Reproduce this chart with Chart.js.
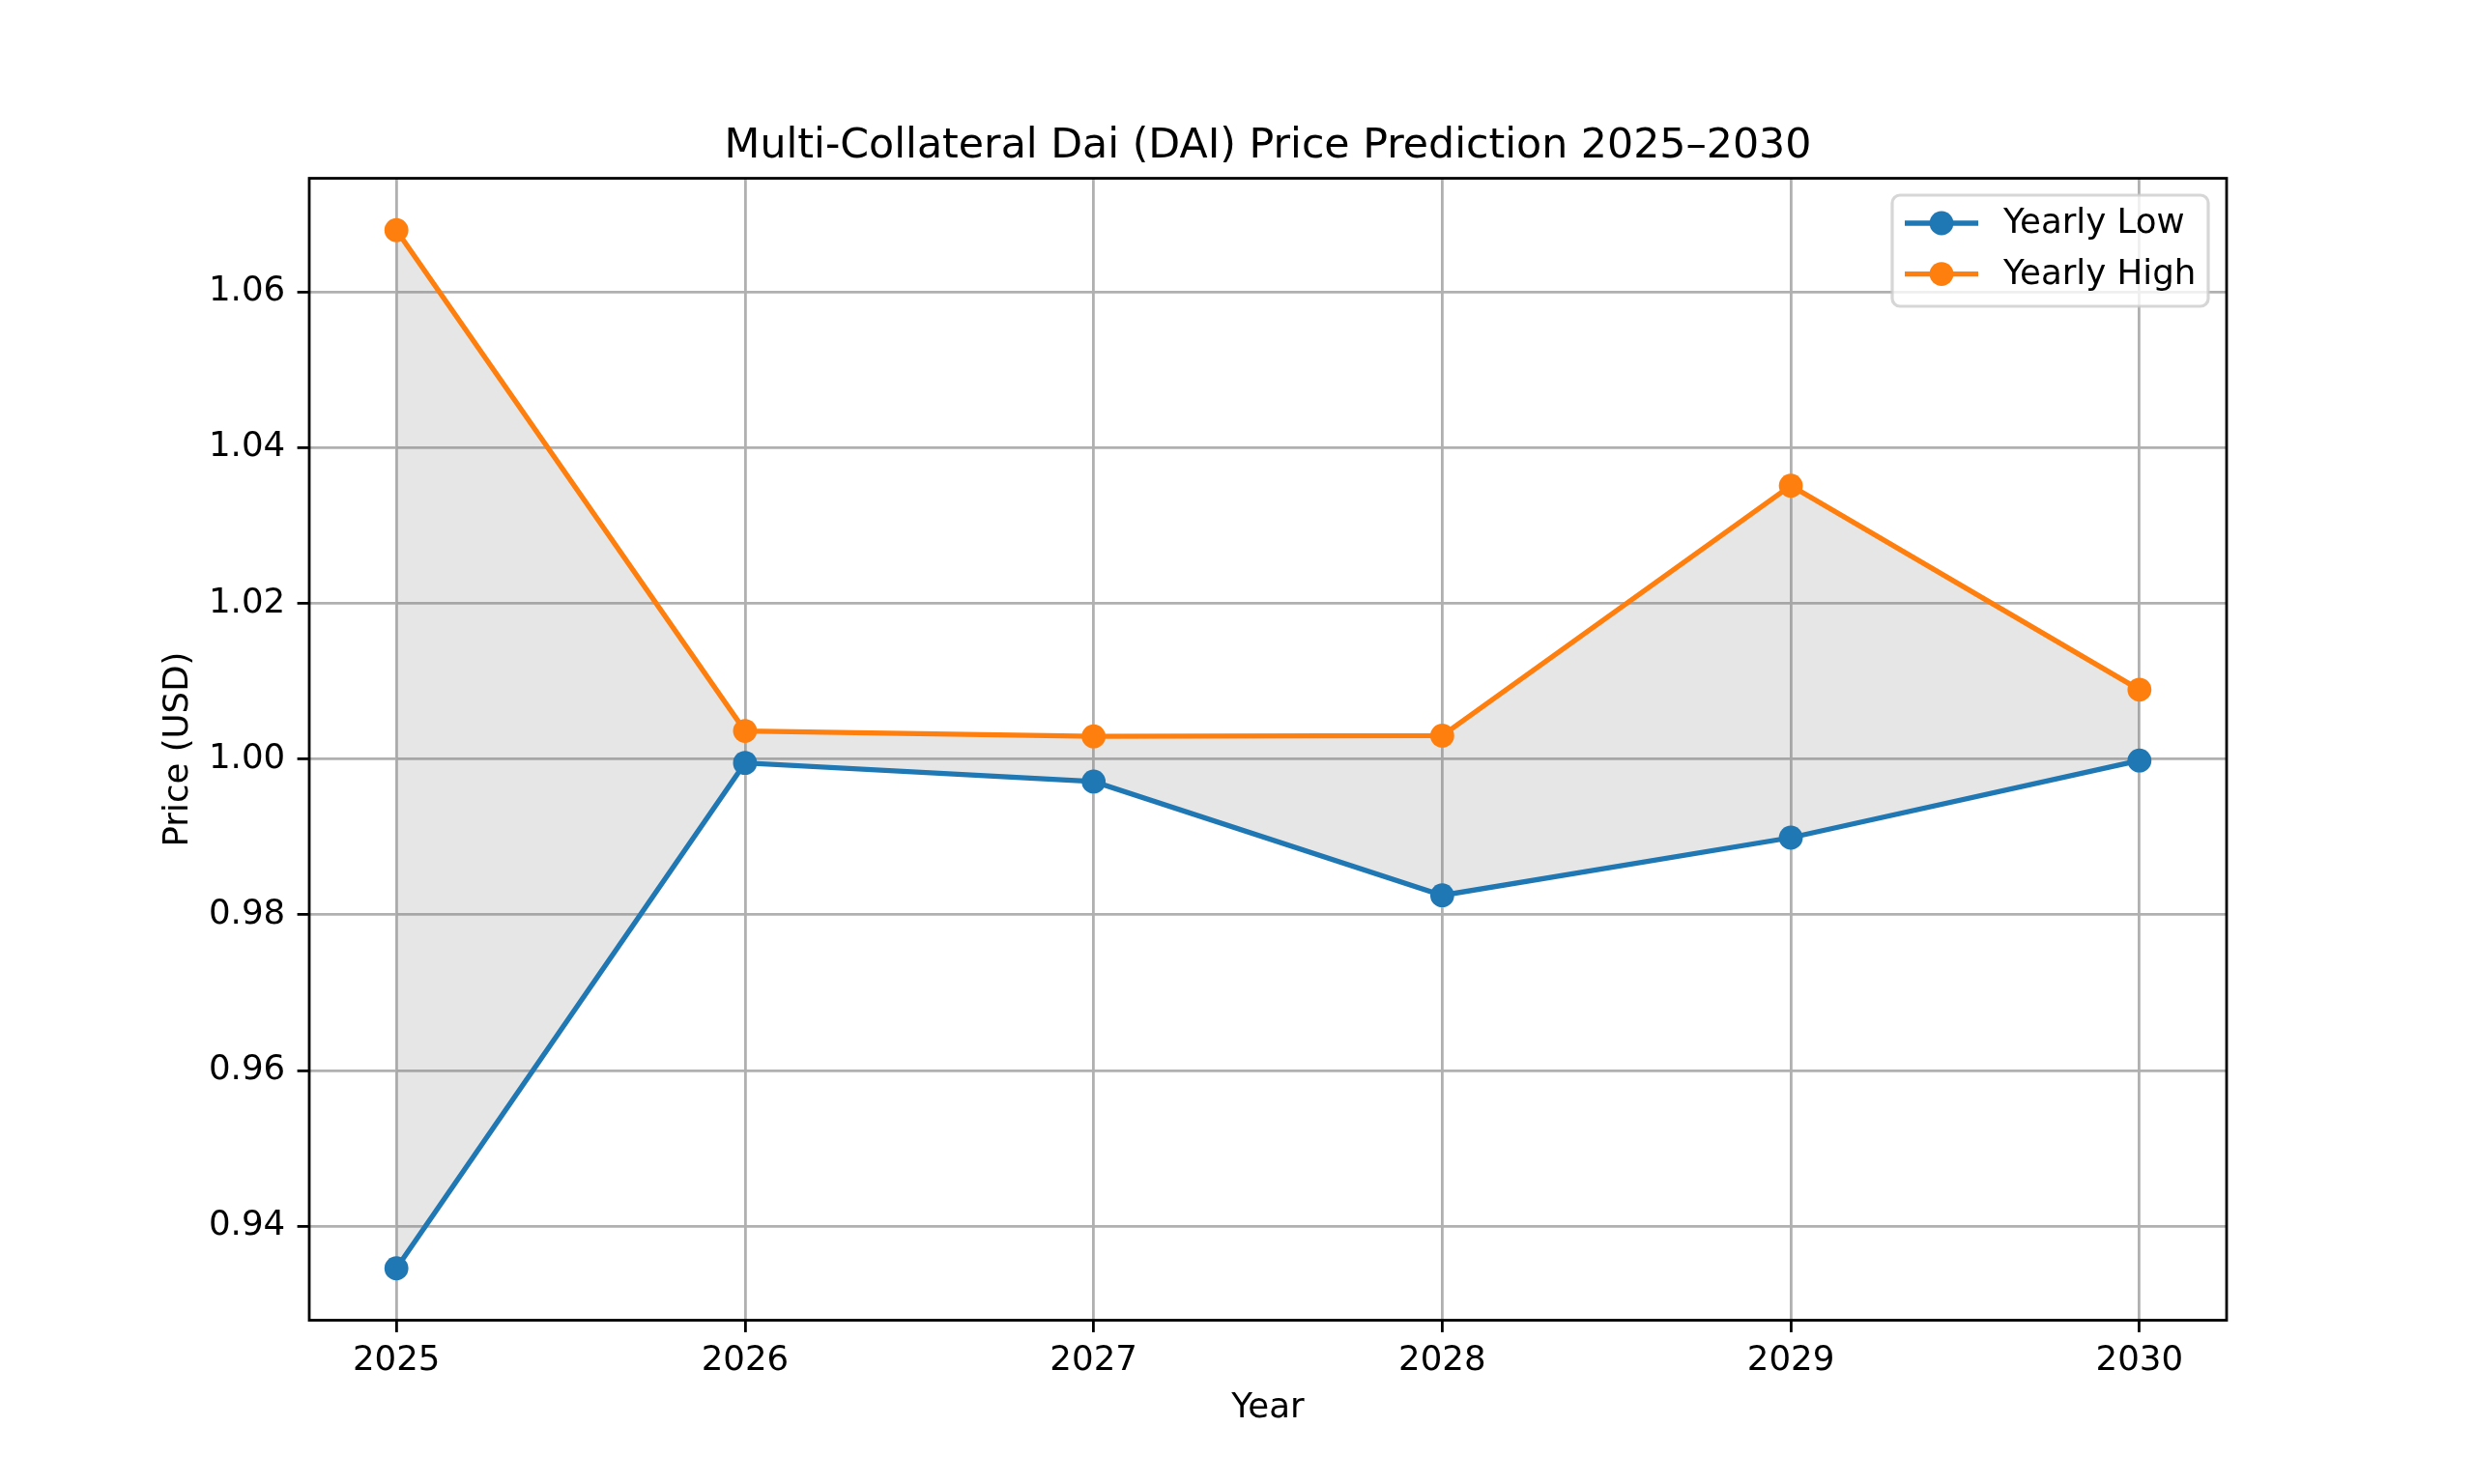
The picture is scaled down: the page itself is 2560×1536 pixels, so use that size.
<!DOCTYPE html>
<html>
<head>
<meta charset="utf-8">
<script src="https://cdn.jsdelivr.net/npm/chart.js@4.4.1/dist/chart.umd.min.js"></script>
<style>
  html, body { margin: 0; padding: 0; background: #fff; }
  #wrap { width: 2560px; height: 1536px; }
</style>
</head>
<body>
<div id="wrap"><canvas id="chart" width="2560" height="1536"></canvas></div>
<script>
const years = [2025, 2026, 2027, 2028, 2029, 2030];
const yearlyLow = [0.9346, 0.9995, 0.9971, 0.9825, 0.9899, 0.9998];
const yearlyHigh = [1.0679, 1.0036, 1.0029, 1.0030, 1.0351, 1.0089];
const yTicks = [0.94, 0.96, 0.98, 1.00, 1.02, 1.04, 1.06];

const BLUE = '#1f77b4';
const ORANGE = '#ff7f0e';
const FONT = "'DejaVu Sans', sans-serif";

// matplotlib-like 5% margins around the data
const allVals = yearlyLow.concat(yearlyHigh);
const yLo = Math.min(...allVals), yHi = Math.max(...allVals);
const yPad = (yHi - yLo) * 0.05;
const xPad = (years[years.length - 1] - years[0]) * 0.05;

const toPoints = vals => vals.map((v, i) => ({ x: years[i], y: v }));

// spines on all four sides
const framePlugin = {
  id: 'frame',
  afterDatasetsDraw(chart) {
    const { ctx, chartArea: a } = chart;
    ctx.save();
    ctx.strokeStyle = '#000';
    ctx.lineWidth = 2.8;
    ctx.strokeRect(a.left, a.top, a.right - a.left, a.bottom - a.top);
    ctx.restore();
  }
};

// legend box in the upper right of the plot, like matplotlib
const legendPlugin = {
  id: 'boxLegend',
  afterDraw(chart) {
    const { ctx } = chart;
    const x = 1958, y = 202, w = 327, h = 115;
    ctx.save();
    ctx.beginPath();
    ctx.roundRect(x, y, w, h, 8);
    ctx.fillStyle = 'rgba(255,255,255,0.8)';
    ctx.fill();
    ctx.lineWidth = 3.2;
    ctx.strokeStyle = 'rgba(204,204,204,0.8)';
    ctx.stroke();

    ctx.font = '35.6px ' + FONT;
    ctx.textBaseline = 'middle';
    ctx.textAlign = 'left';
    chart.data.datasets.forEach((ds, i) => {
      const cy = 231 + i * 52.6;
      ctx.strokeStyle = ds.borderColor;
      ctx.lineWidth = 5.3;
      ctx.beginPath();
      ctx.moveTo(1971, cy);
      ctx.lineTo(2047, cy);
      ctx.stroke();
      ctx.fillStyle = ds.borderColor;
      ctx.beginPath();
      ctx.arc(2009, cy, 12.4, 0, Math.PI * 2);
      ctx.fill();
      ctx.fillStyle = '#000';
      ctx.fillText(ds.label, 2073, cy + 1);
    });
    ctx.restore();
  }
};

const ctx = document.getElementById('chart').getContext('2d');
new Chart(ctx, {
  type: 'line',
  data: {
    datasets: [
      {
        label: 'Yearly Low',
        data: toPoints(yearlyLow),
        borderColor: BLUE,
        backgroundColor: BLUE,
        borderWidth: 5.3,
        pointRadius: 12.4,
        pointBorderWidth: 0,
        pointBackgroundColor: BLUE,
        tension: 0,
        fill: false,
      },
      {
        label: 'Yearly High',
        data: toPoints(yearlyHigh),
        borderColor: ORANGE,
        backgroundColor: 'rgba(128,128,128,0.2)',
        borderWidth: 5.3,
        pointRadius: 12.4,
        pointBorderWidth: 0,
        pointBackgroundColor: ORANGE,
        tension: 0,
        fill: '-1',
      },
    ],
  },
  options: {
    responsive: false,
    animation: false,
    devicePixelRatio: 1,
    layout: { padding: { top: 0, right: 256, bottom: 0, left: 0 } },
    scales: {
      x: {
        type: 'linear',
        min: years[0] - xPad,
        max: years[years.length - 1] + xPad,
        afterBuildTicks: scale => { scale.ticks = years.map(v => ({ value: v })); },
        afterFit: scale => { scale.height = 169.5; },
        grid: {
          color: '#b0b0b0',
          lineWidth: 2.8,
          drawTicks: true,
          tickLength: 12.4,
          tickColor: '#000',
          tickWidth: 2.8,
        },
        border: { display: false },
        ticks: {
          color: '#000',
          font: { family: FONT, size: 35.6 },
          padding: 8,
          maxRotation: 0,
          callback: v => String(v),
        },
        title: {
          display: true,
          text: 'Year',
          color: '#000',
          font: { family: FONT, size: 35.6 },
          padding: { top: 0, bottom: 57 },
        },
      },
      y: {
        type: 'linear',
        min: yLo - yPad,
        max: yHi + yPad,
        afterBuildTicks: scale => { scale.ticks = yTicks.map(v => ({ value: v })); },
        afterFit: scale => { scale.width = 320; },
        grid: {
          color: '#b0b0b0',
          lineWidth: 2.8,
          drawTicks: true,
          tickLength: 12.4,
          tickColor: '#000',
          tickWidth: 2.8,
        },
        border: { display: false },
        ticks: {
          color: '#000',
          font: { family: FONT, size: 35.6 },
          padding: 12.4,
          callback: v => Number(v).toFixed(2),
        },
        title: {
          display: true,
          text: 'Price (USD)',
          color: '#000',
          font: { family: FONT, size: 35.6 },
          padding: { top: 163, bottom: 0 },
        },
      },
    },
    plugins: {
      filler: { drawTime: 'beforeDatasetsDraw' },
      legend: { display: false },
      tooltip: { enabled: false },
      title: {
        display: true,
        fullSize: false,
        text: 'Multi-Collateral Dai (DAI) Price Prediction 2025–2030',
        color: '#000',
        font: { family: FONT, size: 42.7, weight: 'normal' },
        padding: { top: 126, bottom: 7.3 },
      },
    },
  },
  plugins: [framePlugin, legendPlugin],
});
</script>
</body>
</html>
